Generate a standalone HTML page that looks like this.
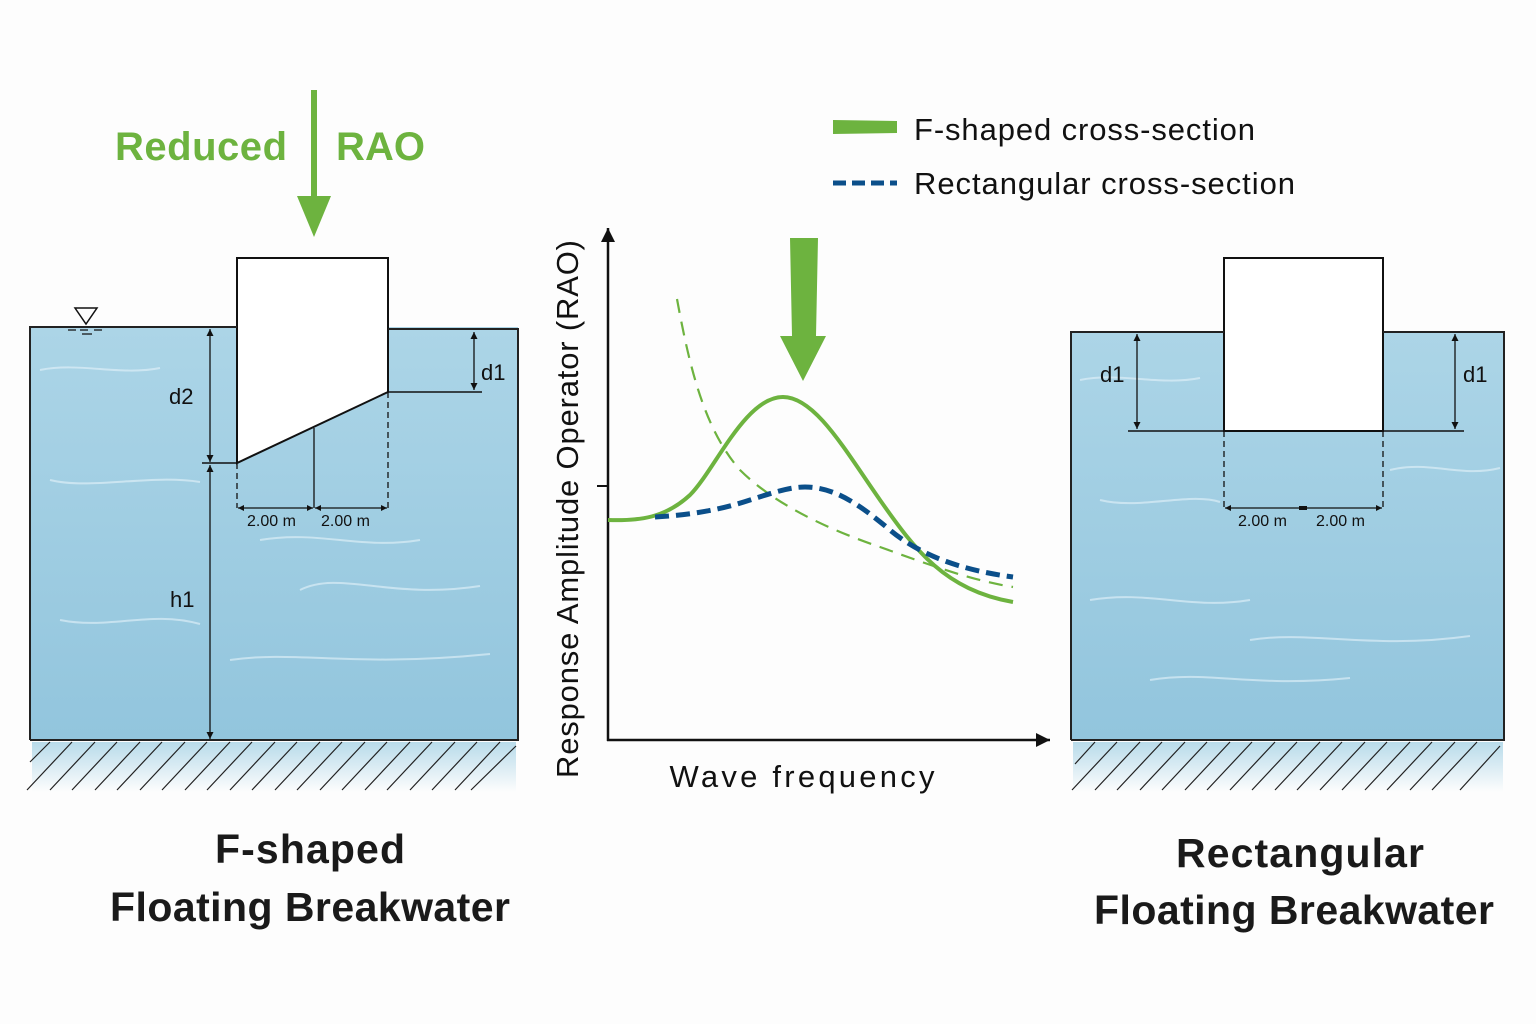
<!DOCTYPE html>
<html><head><meta charset="utf-8"><style>
html,body{margin:0;padding:0;background:#fdfdfd;}
svg{display:block;font-family:"Liberation Sans",sans-serif;}
</style></head><body>
<svg width="1536" height="1024" viewBox="0 0 1536 1024" xmlns="http://www.w3.org/2000/svg">
<defs>
<linearGradient id="w" x1="0" y1="0" x2="0" y2="1">
<stop offset="0" stop-color="#acd5e7"/><stop offset="1" stop-color="#92c5dd"/>
</linearGradient>
<linearGradient id="g2" x1="0" y1="0" x2="0" y2="1">
<stop offset="0" stop-color="#b8dbea"/><stop offset="1" stop-color="#fdfdfd"/>
</linearGradient>
<marker id="a" viewBox="0 0 10 10" refX="10" refY="5" markerWidth="7" markerHeight="9" orient="auto-start-reverse" markerUnits="userSpaceOnUse"><path d="M0,0L10,5L0,10z" fill="#111"/></marker>
<marker id="as" viewBox="0 0 10 10" refX="10" refY="5" markerWidth="10" markerHeight="6" orient="auto-start-reverse" markerUnits="userSpaceOnUse"><path d="M0,0L10,5L0,10z" fill="#111"/></marker>
<marker id="ax" viewBox="0 0 10 10" refX="10" refY="5" markerWidth="20" markerHeight="14" orient="auto" markerUnits="userSpaceOnUse"><path d="M0,0L10,5L0,10z" fill="#111"/></marker>
</defs>

<text x="115" y="160" font-size="40" font-weight="bold" fill="#6db33f" textLength="172">Reduced</text>
<text x="336" y="160" font-size="40" font-weight="bold" fill="#6db33f" textLength="89">RAO</text>
<rect x="311" y="90" width="6" height="110" fill="#6db33f"/>
<path d="M297,196L331,196L314,237z" fill="#6db33f"/>

<!-- LEFT PANEL -->
<rect x="32" y="742" width="484" height="50" fill="url(#g2)"/>
<rect x="30" y="327" width="488" height="413" fill="url(#w)"/>
<g stroke="#e6f3fa" stroke-width="2" fill="none" opacity="0.6">
<path d="M40,370c40,-8 80,6 120,-2M260,540c60,-10 100,10 160,0M60,620c50,10 90,-10 140,4M230,660c70,-10 120,8 260,-6M300,590c40,-20 90,10 180,-4M50,480c40,10 100,-6 150,2"/>
</g>
<path d="M237,258H388V392L237,463z" fill="#fff" stroke="#111" stroke-width="2"/>
<path d="M30,740V327H237M388,329H518V740H30" fill="none" stroke="#222" stroke-width="2"/>
<path d="M75,308h22l-11,16z" fill="none" stroke="#111" stroke-width="1.5"/>
<path d="M68,330h8M80,330h8M94,330h8M82,334h10" stroke="#111" stroke-width="1.2"/>
<line x1="388" y1="392" x2="482" y2="392" stroke="#111" stroke-width="1.5"/>
<line x1="474" y1="332" x2="474" y2="390" stroke="#111" stroke-width="1.3" marker-start="url(#a)" marker-end="url(#a)"/>
<text x="481" y="380" font-size="22" fill="#111">d1</text>
<line x1="202" y1="463" x2="237" y2="463" stroke="#111" stroke-width="1.5"/>
<line x1="210" y1="329" x2="210" y2="462" stroke="#111" stroke-width="1.3" marker-start="url(#a)" marker-end="url(#a)"/>
<text x="169" y="404" font-size="22" fill="#111">d2</text>
<line x1="210" y1="465" x2="210" y2="739" stroke="#111" stroke-width="1.3" marker-start="url(#a)" marker-end="url(#a)"/>
<text x="170" y="607" font-size="22" fill="#111">h1</text>
<path d="M237,463V508M388,392V508" stroke="#111" stroke-width="1.3" stroke-dasharray="6,4"/>
<line x1="314" y1="428" x2="314" y2="508" stroke="#111" stroke-width="1.3"/>
<line x1="238" y1="508" x2="313" y2="508" stroke="#111" stroke-width="1.3" marker-start="url(#as)" marker-end="url(#as)"/>
<line x1="315" y1="508" x2="387" y2="508" stroke="#111" stroke-width="1.3" marker-start="url(#as)" marker-end="url(#as)"/>
<text x="247" y="526" font-size="16" fill="#111">2.00 m</text>
<text x="321" y="526" font-size="16" fill="#111">2.00 m</text>
<g stroke="#222" stroke-width="1.2">
<path d="M50,742l-20,20M72,742l-45,48M95,742l-45,48M117,742l-45,48M140,742l-45,48M162,742l-45,48M185,742l-45,48M207,742l-45,48M230,742l-45,48M252,742l-45,48M275,742l-45,48M297,742l-45,48M320,742l-45,48M342,742l-45,48M365,742l-45,48M387,742l-45,48M410,742l-45,48M432,742l-45,48M455,742l-45,48M477,742l-45,48M500,742l-45,48M516,746l-45,44"/>
</g>
<text x="310" y="863" font-size="41" font-weight="bold" fill="#1a1a1a" text-anchor="middle" textLength="190">F-shaped</text>
<text x="310" y="921" font-size="41" font-weight="bold" fill="#1a1a1a" text-anchor="middle" textLength="400">Floating Breakwater</text>

<!-- RIGHT PANEL -->
<rect x="1073" y="742" width="430" height="50" fill="url(#g2)"/>
<rect x="1071" y="332" width="433" height="408" fill="url(#w)"/>
<g stroke="#e6f3fa" stroke-width="2" fill="none" opacity="0.6">
<path d="M1090,600c60,-10 100,10 160,0M1250,640c60,-10 120,10 220,-4M1100,500c40,10 90,-8 120,2M1390,470c40,-10 70,8 110,-2M1150,680c60,-10 100,8 200,-2M1080,380c40,-8 80,6 120,-2"/>
</g>
<rect x="1224" y="258" width="159" height="173" fill="#fff" stroke="#111" stroke-width="2"/>
<path d="M1071,740V332H1224M1383,332H1504V740H1071" fill="none" stroke="#222" stroke-width="2"/>
<line x1="1128" y1="431" x2="1464" y2="431" stroke="#111" stroke-width="1.5"/>
<line x1="1137" y1="334" x2="1137" y2="429" stroke="#111" stroke-width="1.3" marker-start="url(#a)" marker-end="url(#a)"/>
<line x1="1455" y1="334" x2="1455" y2="429" stroke="#111" stroke-width="1.3" marker-start="url(#a)" marker-end="url(#a)"/>
<text x="1100" y="382" font-size="22" fill="#111">d1</text>
<text x="1463" y="382" font-size="22" fill="#111">d1</text>
<path d="M1224,431V508M1383,431V508" stroke="#111" stroke-width="1.3" stroke-dasharray="6,4"/>
<line x1="1225" y1="508" x2="1382" y2="508" stroke="#111" stroke-width="1.3" marker-start="url(#as)" marker-end="url(#as)"/>
<rect x="1299" y="506" width="8" height="4" fill="#111"/>
<text x="1238" y="526" font-size="16" fill="#111">2.00 m</text>
<text x="1316" y="526" font-size="16" fill="#111">2.00 m</text>
<g stroke="#222" stroke-width="1.2">
<path d="M1095,742l-20,22M1117,742l-45,48M1140,742l-45,48M1162,742l-45,48M1185,742l-45,48M1207,742l-45,48M1230,742l-45,48M1252,742l-45,48M1275,742l-45,48M1297,742l-45,48M1320,742l-45,48M1342,742l-45,48M1365,742l-45,48M1387,742l-45,48M1410,742l-45,48M1432,742l-45,48M1455,742l-45,48M1477,742l-45,48M1500,746l-40,44"/>
</g>
<text x="1300" y="867" font-size="41" font-weight="bold" fill="#1a1a1a" text-anchor="middle" textLength="248">Rectangular</text>
<text x="1294" y="924" font-size="41" font-weight="bold" fill="#1a1a1a" text-anchor="middle" textLength="400">Floating Breakwater</text>

<!-- CHART -->
<line x1="608" y1="741" x2="608" y2="228" stroke="#111" stroke-width="2.5" marker-end="url(#ax)"/>
<line x1="607" y1="740" x2="1050" y2="740" stroke="#111" stroke-width="2.5" marker-end="url(#ax)"/>
<line x1="597" y1="486" x2="608" y2="486" stroke="#111" stroke-width="2"/>
<text transform="translate(578,509) rotate(-90)" font-size="31" fill="#111" text-anchor="middle" textLength="538">Response Amplitude Operator (RAO)</text>
<text x="802" y="787" font-size="31" fill="#111" text-anchor="middle" textLength="265">Wave frequency</text>
<path d="M677,299C690,370 705,430 740,470C775,505 830,530 880,547C930,565 970,580 1013,587" fill="none" stroke="#6db33f" stroke-width="2.2" stroke-dasharray="14,9"/>
<path d="M608,520C640,521 665,518 690,495C715,470 745,397 783,397C815,397 845,450 880,500C915,550 945,590 1013,602" fill="none" stroke="#6db33f" stroke-width="4"/>
<path d="M655,517C690,515 720,510 750,500C775,492 790,487 805,487C835,487 860,505 890,530C920,555 960,570 1013,577" fill="none" stroke="#0b4f8a" stroke-width="5" stroke-dasharray="14,7"/>
<path d="M790,238L818,238L816,336L826,336L803,381L780,336L792,336z" fill="#6db33f"/>

<!-- Legend -->
<path d="M833,120L897,121L897,133L833,134z" fill="#6db33f"/>
<text x="914" y="140" font-size="31" fill="#111" textLength="341">F-shaped cross-section</text>
<line x1="833" y1="183" x2="897" y2="183" stroke="#0b4f8a" stroke-width="5" stroke-dasharray="13,6"/>
<text x="914" y="194" font-size="31" fill="#111" textLength="381">Rectangular cross-section</text>
</svg>
</body></html>
